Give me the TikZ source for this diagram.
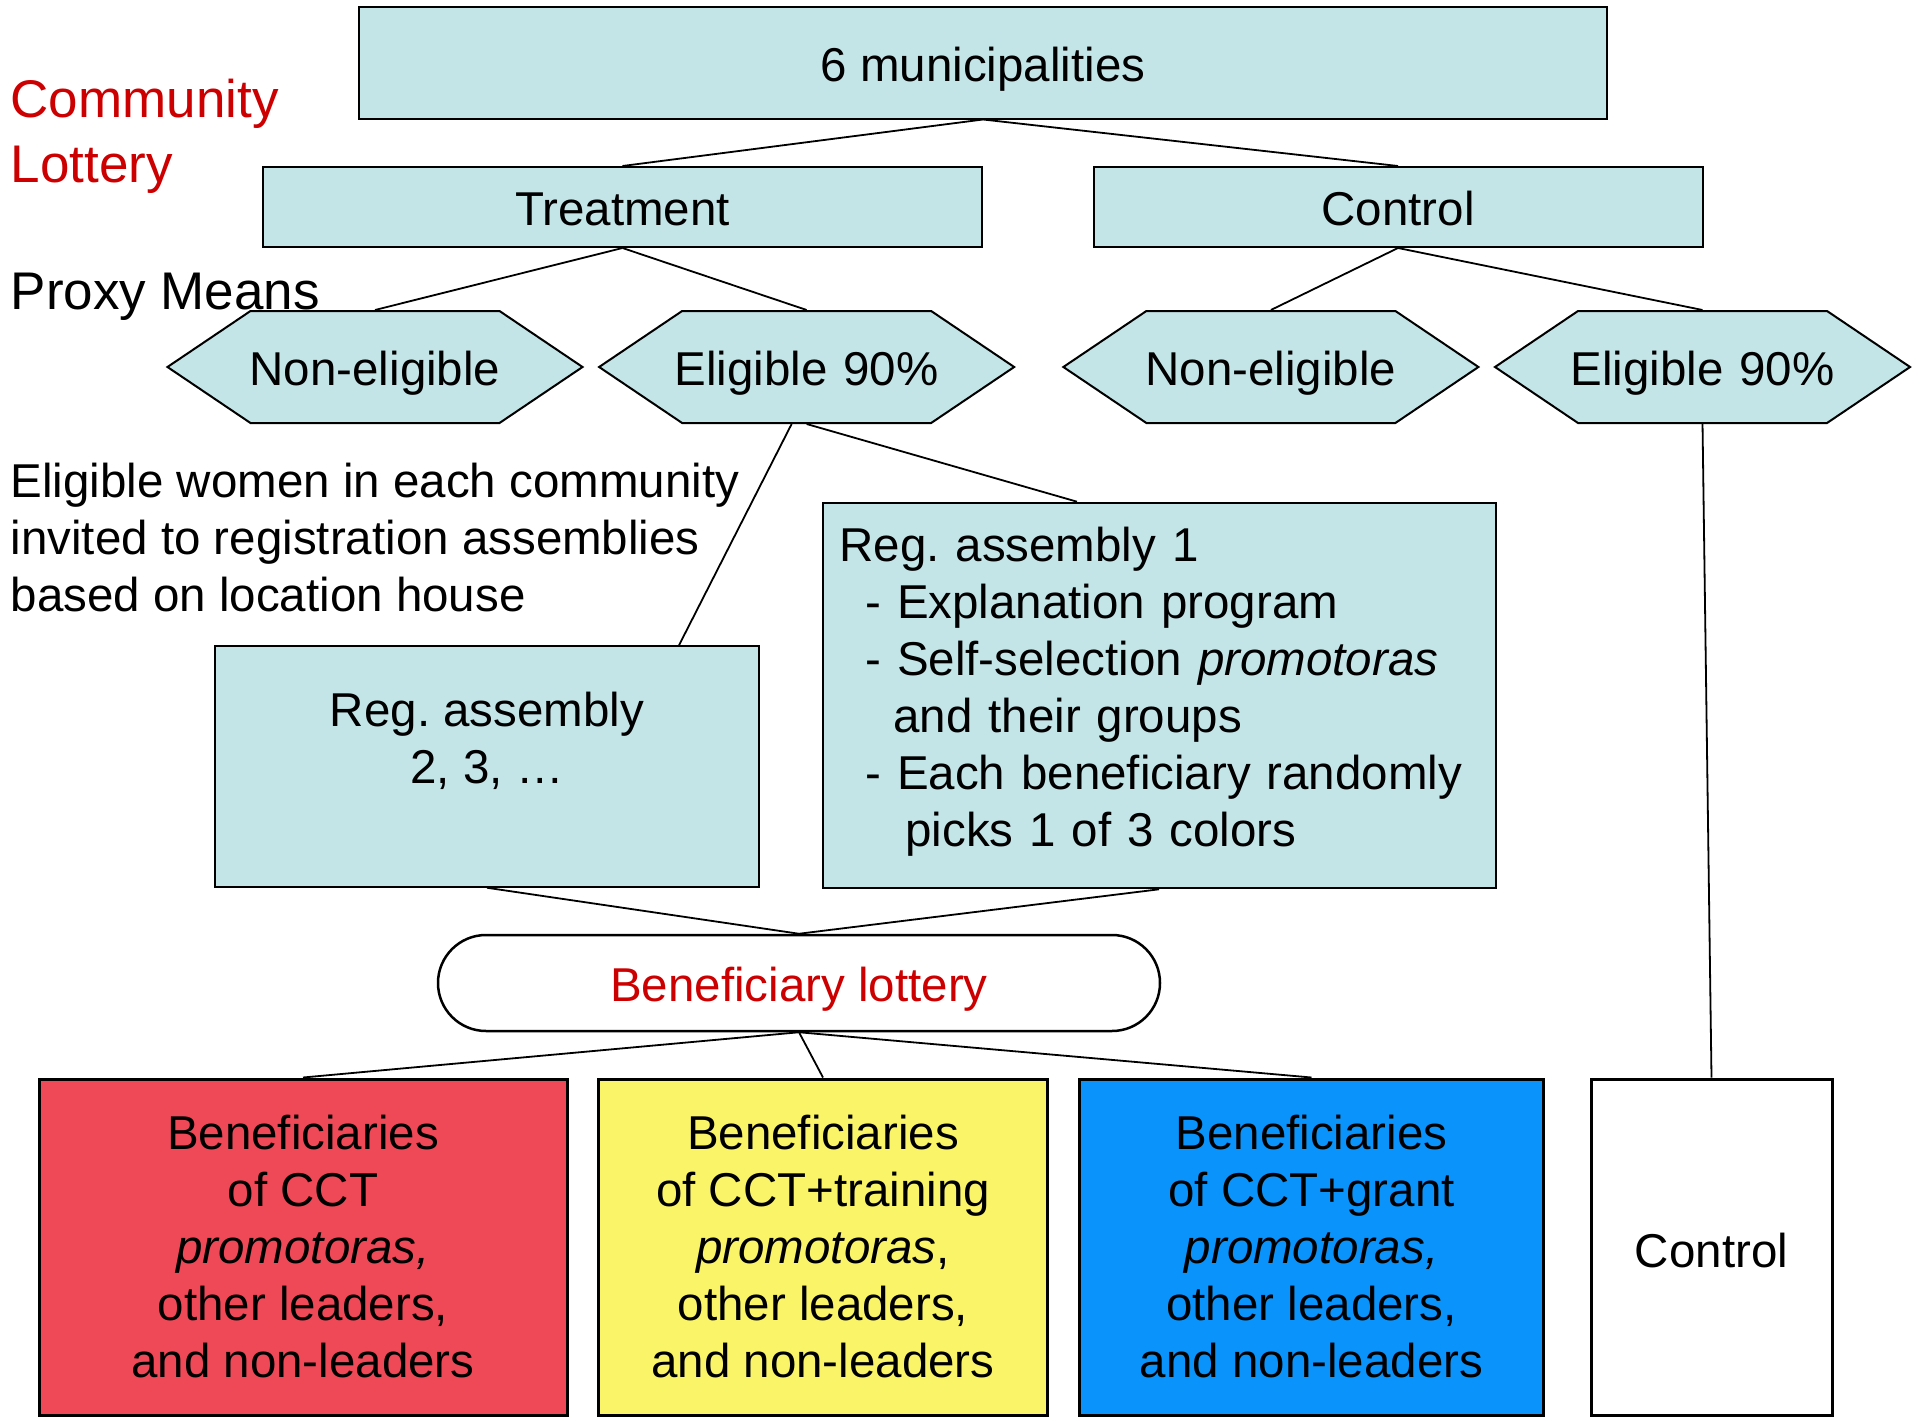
\documentclass[tikz,border=0pt]{standalone}
\usepackage{fontspec}
\setmainfont{Liberation Sans}
\usepackage{xcolor}
\usepackage{tikz}
\usetikzlibrary{positioning,shapes.symbols,shapes.misc}
\definecolor{pale}{HTML}{C4E5E8}
\definecolor{lotred}{HTML}{CC0000}
\definecolor{armred}{HTML}{EF4857}
\definecolor{armyellow}{HTML}{F9F468}
\definecolor{armblue}{HTML}{0A93FB}
\newcommand{\promo}[1]{\textit{promotoras#1}}
\frenchspacing

\begin{document}
\begin{tikzpicture}[x=1pt, y=-1pt, font=\fontsize{47.5}{57}\selectfont,
    box/.style={draw, fill=pale, line width=2pt, align=center, inner sep=0pt},
    oneline/.style={text height=43pt, text depth=6pt},
    hexa/.style={signal, signal to=west and east, signal pointer angle=68, draw, fill=pale,
      line width=2pt, minimum width=415pt, minimum height=112pt, inner ysep=0pt, inner xsep=-20.5pt,
      text width=290pt, align=center, oneline},
    arm/.style={draw, line width=3pt, align=center, minimum height=336pt, inner sep=0pt,
      execute at begin node=\rule{0pt}{42pt}},
    note/.style={anchor=north west, inner sep=0pt, align=left},
    link/.style={line width=1.8pt}]
  \useasboundingbox (0,0) rectangle (1923,1421);
  \node[note, font=\fontsize{53}{65}\selectfont, text=lotred] (commlab) at (10.5,79) {Community\\Lottery};
  \node[note, font=\fontsize{53}{65}\selectfont] (pmtlab) at (10.5,273) {Proxy Means};
  \node[note] (invlab) at (10.5,463) {Eligible women in each community\\invited to registration assemblies\\based on location house};
  \node[box, oneline, minimum width=1248pt, minimum height=111pt] (muni) at (983,63) {6 municipalities};
  \node[box, oneline, minimum width=719pt, minimum height=80pt] (treat) at (622.5,207) {Treatment};
  \node[box, oneline, minimum width=609pt, minimum height=80pt] (ctrl) at (1398,207) {Control};
  \node[hexa] (ne1) at (375,367) {Non-eligible};
  \node[hexa, right=13pt of ne1] (e1) {Eligible 90\%};
  \node[hexa, right=45.6pt of e1] (ne2) {Non-eligible};
  \node[hexa, right=13pt of ne2] (e2) {Eligible 90\%};
  \node[box, minimum width=544.5pt, minimum height=240.5pt] (reg2) at (487,766.5) {Reg. assembly\\2, 3, …\\\mbox{}};
  \node[box, align=left, text width=639pt, inner xsep=17pt, minimum height=385.6pt] (reg1) at (1159,695.5)
    {Reg. assembly 1\\
     \hspace*{26pt}- Explanation program\\
     \hspace*{26pt}- Self-selection \promo{}\\
     \hspace*{54pt}and their groups\\
     \hspace*{26pt}- Each beneficiary randomly\\
     \hspace*{66pt}picks 1 of 3 colors\rule[-18pt]{0pt}{18pt}};
  \node[rounded rectangle, oneline, draw, fill=white, line width=2.5pt, minimum width=722pt, minimum height=96pt,
    inner sep=0pt, text=lotred] (lot) at (799,983) {Beneficiary lottery};
  \node[arm, fill=armred, minimum width=528pt] (cct) at (303,1247)
    {Beneficiaries\\of CCT\\\promo{,}\\other leaders,\\and non-leaders};
  \node[arm, fill=armyellow, minimum width=449pt] (train) at (823,1247)
    {Beneficiaries\\of CCT+training\\\promo{},\\other leaders,\\and non-leaders};
  \node[arm, fill=armblue, minimum width=464pt] (grant) at (1311.5,1247)
    {Beneficiaries\\of CCT+grant\\\promo{,}\\other leaders,\\and non-leaders};
  \node[arm, fill=white, minimum width=241pt] (ctl) at (1711.5,1247) {Control};
  \draw[link] (muni.south) -- (treat.north);
  \draw[link] (muni.south) -- (ctrl.north);
  \draw[link] (treat.south) -- (ne1.north);
  \draw[link] (treat.south) -- (e1.north);
  \draw[link] (ctrl.south) -- (ne2.north);
  \draw[link] (ctrl.south) -- (e2.north);
  \draw[link] ([xshift=-15pt]e1.south) -- ([xshift=192pt]reg2.north);
  \draw[link] (e1.south) -- ([xshift=-82pt]reg1.north);
  \draw[link] (reg2.south) -- (lot.north);
  \draw[link] (reg1.south) -- (lot.north);
  \draw[link] (lot.south) -- (cct.north);
  \draw[link] (lot.south) -- (train.north);
  \draw[link] (lot.south) -- (grant.north);
  \draw[link] (e2.south) -- (ctl.north);
\end{tikzpicture}
\end{document}
